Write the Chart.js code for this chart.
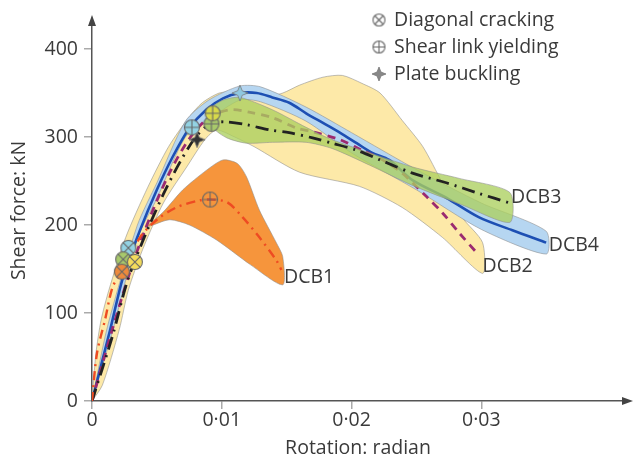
<!DOCTYPE html>
<html>
<head>
<meta charset="utf-8">
<script src="https://cdn.jsdelivr.net/npm/chart.js@4.4.0/dist/chart.umd.min.js"></script>
<style>
  html, body { margin: 0; padding: 0; background: #fff; }
  #wrap { width: 633px; height: 463px; }
</style>
</head>
<body>
<div id="wrap"><canvas id="chart" width="633" height="463"></canvas></div>
<script>
// values: [rotation (rad), shear force (kN)]
const dcb1Line = [[0, 0], [0.00038, 54], [0.001, 92], [0.0016, 130], [0.0023, 147], [0.0037, 186], [0.005, 206],
    [0.0065, 220], [0.0083, 228], [0.0091, 229], [0.0104, 226], [0.0116, 209], [0.0129, 186], [0.0142, 160], [0.0146, 149]];
const dcb2Line = [[0, 0], [0.0015, 78], [0.003, 150], [0.0045, 210], [0.006, 260], [0.0075, 298], [0.009, 322],
    [0.0106, 331], [0.0122, 328], [0.0139, 322], [0.0158, 310], [0.017, 306], [0.0191, 297], [0.0208, 285],
    [0.0224, 274], [0.0239, 259], [0.0258, 232], [0.027, 214], [0.0283, 191], [0.0298, 166]];
const dcb3Line = [[0, 0], [0.0016, 75], [0.0027, 135], [0.004, 185], [0.0055, 235], [0.0068, 272], [0.008, 300],
    [0.0092, 316], [0.0104, 317], [0.0119, 314], [0.0137, 308], [0.0152, 305], [0.017, 299], [0.0185, 293],
    [0.0204, 285], [0.0222, 274], [0.0247, 259], [0.0273, 248], [0.0298, 236], [0.0322, 225]];
const dcb4Line = [[0, 0], [0.0014, 81], [0.0024, 141], [0.0037, 194], [0.005, 240], [0.0062, 277], [0.0075, 310],
    [0.0088, 331], [0.0101, 344], [0.0114, 350], [0.0127, 350], [0.0139, 345], [0.0152, 339], [0.0165, 327],
    [0.0178, 316], [0.0191, 305], [0.0204, 293], [0.0216, 282], [0.0229, 274], [0.0247, 251], [0.0273, 231],
    [0.0298, 209], [0.0324, 194], [0.035, 180]];

// scatter bands (closed outlines)
const dcb1Band = [[0.0041, 197], [0.0055, 215], [0.007, 240], [0.0088, 262], [0.0101, 274], [0.0112, 270],
    [0.0119, 255], [0.0129, 217], [0.0142, 180], [0.0147, 164], [0.0147, 132], [0.0122, 155], [0.0096, 183],
    [0.0075, 200], [0.006, 206], [0.0047, 200], [0.0041, 197]];
const dcb2Band = [[0, 0], [0.0003, 54], [0.0007, 92], [0.0013, 126], [0.0026, 186], [0.0043, 243], [0.0059, 289],
    [0.0075, 323], [0.0085, 339], [0.0098, 350], [0.011, 351], [0.0129, 344], [0.0147, 350], [0.016, 359],
    [0.0178, 368], [0.0193, 370], [0.0208, 361], [0.0222, 350], [0.0239, 319], [0.0255, 289], [0.027, 248],
    [0.0285, 209], [0.0301, 180], [0.0301, 145], [0.027, 186], [0.0239, 220], [0.0206, 244], [0.016, 260],
    [0.0125, 289], [0.011, 300], [0.0096, 308], [0.0087, 297], [0.0073, 266], [0.0055, 225], [0.0039, 172],
    [0.0028, 126], [0.0021, 81], [0.0008, 18], [0, 0]];
const dcb3Band = [[0.0089, 331], [0.0101, 342], [0.0114, 345], [0.0139, 331], [0.0165, 311], [0.0185, 297],
    [0.0247, 266], [0.0283, 253], [0.0322, 237], [0.0322, 203], [0.0285, 223], [0.0247, 245], [0.0214, 268],
    [0.0185, 287], [0.0165, 294], [0.0139, 294], [0.0119, 293], [0.0104, 299], [0.0093, 311], [0.0089, 331]];
const dcb4Band = [[0, 0], [0.0012, 85], [0.0035, 200], [0.005, 248], [0.0072, 318], [0.009, 342], [0.0114, 358],
    [0.013, 357], [0.0165, 334], [0.02, 305], [0.025, 263], [0.03, 225], [0.035, 193], [0.035, 167], [0.03, 195],
    [0.025, 240], [0.02, 282], [0.0165, 318], [0.013, 340], [0.0114, 342], [0.009, 320], [0.0072, 300],
    [0.005, 230], [0.0035, 185], [0.0016, 80], [0, 0]];

// event markers
const crackPts = [[0.0028, 174], [0.0024, 161], [0.0033, 158], [0.0023, 147]];
const crackColors = ['#93d2e3', '#a8c96b', '#f3dc5c', '#ee8a3c'];
const yieldPts = [[0.0077, 311], [0.0092, 315], [0.0093, 327], [0.0091, 229]];
const yieldColors = ['#93d2e3', '#a8c96b', '#d7d94a', 'rgba(0,0,0,0)'];
const bucklePts = [[0.0114, 350], [0.0081, 297]];
const buckleColors = ['#8fc8e0', '#333333'];

const xTicks = [0, 0.01, 0.02, 0.03];
const yTicks = [0, 100, 200, 300, 400];
const curveLabels = ['DCB1', 'DCB2', 'DCB3', 'DCB4'];
const curveLabelPos = [[0.0148, 140], [0.0301, 153], [0.0323, 231], [0.0352, 177]];
const legendLabels = ['Diagonal cracking', 'Shear link yielding', 'Plate buckling'];

const FONT = "'Open Sans', 'Noto Sans', sans-serif";
const FSIZE = 19.5;
const TEXT = '#3a3a3a';
Chart.defaults.font.family = FONT;
Chart.defaults.font.size = FSIZE;
Chart.defaults.color = TEXT;

const pts = arr => arr.map(p => ({ x: p[0], y: p[1] }));

function circleMarker(fill, kind, r = 7.5) {
    const s = Math.ceil(r * 2 + 3);
    const c = document.createElement('canvas');
    c.width = s; c.height = s;
    const g = c.getContext('2d');
    const m = s / 2;
    g.beginPath();
    g.arc(m, m, r, 0, Math.PI * 2);
    g.fillStyle = fill;
    g.fill();
    g.lineWidth = 1.1;
    g.strokeStyle = '#666';
    g.stroke();
    g.beginPath();
    if (kind === 'x') {
        const d = r * 0.707;
        g.moveTo(m - d, m - d); g.lineTo(m + d, m + d);
        g.moveTo(m + d, m - d); g.lineTo(m - d, m + d);
    } else {
        g.moveTo(m - r, m); g.lineTo(m + r, m);
        g.moveTo(m, m - r); g.lineTo(m, m + r);
    }
    g.stroke();
    return c;
}

function starMarker(fill, r = 8) {
    const s = Math.ceil(r * 2 + 2);
    const c = document.createElement('canvas');
    c.width = s; c.height = s;
    const g = c.getContext('2d');
    const m = s / 2, k = r * 0.28;
    g.beginPath();
    g.moveTo(m, m - r); g.lineTo(m + k, m - k); g.lineTo(m + r, m); g.lineTo(m + k, m + k);
    g.lineTo(m, m + r); g.lineTo(m - k, m + k); g.lineTo(m - r, m); g.lineTo(m - k, m - k);
    g.closePath();
    g.fillStyle = fill;
    g.fill();
    g.lineWidth = 0.8;
    g.strokeStyle = '#777';
    g.stroke();
    return c;
}

const band = (data, color, order) => ({
    data: pts(data), showLine: true, fill: 'shape', backgroundColor: color,
    borderColor: 'rgba(140,140,140,0.7)', borderWidth: 0.8, pointRadius: 0, tension: 0.25, order
});
const curve = (data, color, dash, order, width = 2.6) => ({
    data: pts(data), showLine: true, fill: false, borderColor: color, borderWidth: width,
    borderDash: dash, pointRadius: 0, tension: 0.3, order
});
const markers = (data, styles, order) => ({
    data: pts(data), showLine: false, pointStyle: styles, pointRadius: 8, order
});

const overlay = {
    id: 'overlay',
    afterDraw(chart) {
        const { ctx, chartArea: a, scales: { x, y } } = chart;
        ctx.save();
        // axis arrows
        ctx.fillStyle = '#444';
        ctx.strokeStyle = '#555';
        ctx.lineWidth = 1.5;
        ctx.beginPath();
        ctx.moveTo(a.right, a.bottom); ctx.lineTo(626, a.bottom);
        ctx.moveTo(a.left, a.top); ctx.lineTo(a.left, 24);
        ctx.stroke();
        ctx.beginPath();
        ctx.moveTo(633, a.bottom); ctx.lineTo(622, a.bottom - 4); ctx.lineTo(622, a.bottom + 4); ctx.closePath();
        ctx.fill();
        ctx.beginPath();
        ctx.moveTo(a.left, 15); ctx.lineTo(a.left - 4, 26); ctx.lineTo(a.left + 4, 26); ctx.closePath();
        ctx.fill();

        // curve labels
        ctx.font = FSIZE + 'px ' + FONT;
        ctx.fillStyle = TEXT;
        ctx.textBaseline = 'middle';
        ctx.textAlign = 'left';
        curveLabels.forEach((t, i) => {
            ctx.fillText(t, x.getPixelForValue(curveLabelPos[i][0]), y.getPixelForValue(curveLabelPos[i][1]));
        });

        // legend
        const icons = [circleMarker('#fff', 'x', 6), circleMarker('#fff', '+', 6), starMarker('#888', 7)];
        legendLabels.forEach((t, i) => {
            const cy = 20 + i * 27;
            const ic = icons[i];
            ctx.drawImage(ic, 379 - ic.width / 2, cy - ic.height / 2);
            ctx.fillStyle = TEXT;
            ctx.fillText(t, 394, cy);
        });
        ctx.restore();
    }
};

new Chart(document.getElementById('chart'), {
    type: 'scatter',
    data: {
        datasets: [
            markers(crackPts, crackColors.map(c => circleMarker(c, 'x')), 0),
            markers(yieldPts, yieldColors.map(c => circleMarker(c, '+')), 0),
            markers(bucklePts, buckleColors.map(c => starMarker(c)), 0),
            curve(dcb1Line, '#ee4b22', [9, 5, 2, 5], 1, 2.4),
            curve(dcb3Line, '#222222', [13, 6, 2, 6], 2, 2.8),
            band(dcb3Band, 'rgba(172,208,95,0.78)', 3),
            curve(dcb2Line, '#9b2a70', [8, 6], 4, 2.8),
            curve(dcb4Line, '#1d4fb3', [], 5, 2.6),
            band(dcb4Band, '#b6d6f1', 6),
            band(dcb1Band, '#f6953c', 7),
            band(dcb2Band, '#fde9a8', 8)
        ]
    },
    options: {
        responsive: false,
        animation: false,
        events: [],
        layout: { padding: { left: 0, right: 7, top: 20, bottom: 0 } },
        plugins: { legend: { display: false }, tooltip: { enabled: false } },
        scales: {
            x: {
                type: 'linear', min: 0, max: 0.041,
                afterBuildTicks: s => { s.ticks = xTicks.map(v => ({ value: v })); },
                afterFit: s => { s.height = 62; },
                ticks: {
                    autoSkip: false, maxRotation: 0, padding: 0, color: TEXT,
                    callback: v => (v === 0 ? '0' : v.toFixed(2).replace('.', '\u00b7'))
                },
                grid: { drawOnChartArea: false, drawTicks: true, tickLength: 8, color: '#aaa', lineWidth: 1.5 },
                border: { color: '#555', width: 1.5 },
                title: { display: true, text: 'Rotation: radian', color: TEXT, padding: { top: 0, bottom: 3 } }
            },
            y: {
                type: 'linear', min: 0, max: 433,
                afterBuildTicks: s => { s.ticks = yTicks.map(v => ({ value: v })); },
                afterFit: s => { s.width = 92; },
                ticks: { padding: 6, color: TEXT },
                grid: { drawOnChartArea: false, drawTicks: true, tickLength: 8, color: '#aaa', lineWidth: 1.5 },
                border: { color: '#555', width: 1.5 },
                title: { display: true, text: 'Shear force: kN', color: TEXT, padding: { top: 8, bottom: 0 } }
            }
        }
    },
    plugins: [overlay]
});
</script>
</body>
</html>
